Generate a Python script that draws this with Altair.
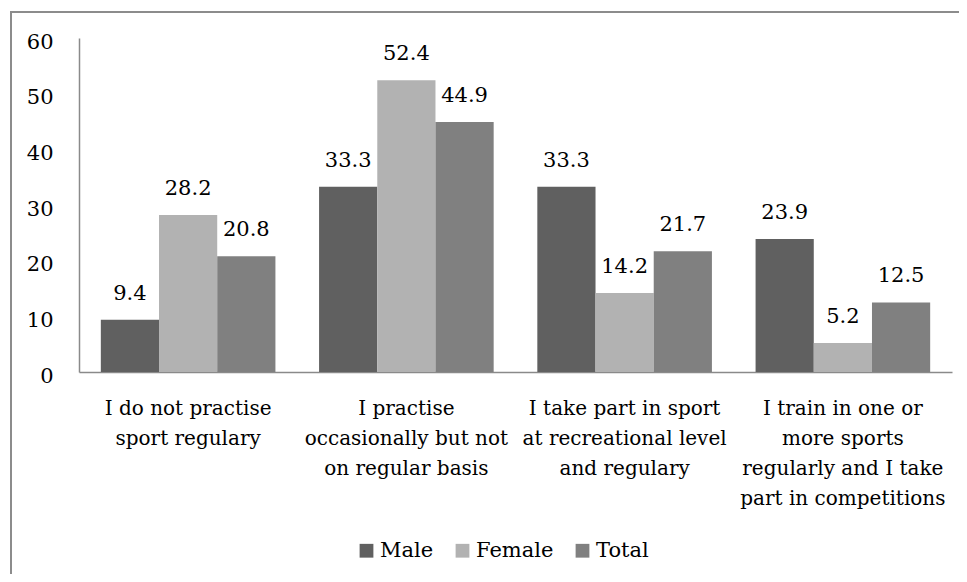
import json
import altair as alt
import pandas as pd

categories = [
    "I do not practise sport regulary",
    "I practise occasionally but not on regular basis",
    "I take part in sport at recreational level and regulary",
    "I train in one or more sports regularly and I take part in competitions",
]
category_lines = [
    ["I do not practise", "sport regulary"],
    ["I practise", "occasionally but not", "on regular basis"],
    ["I take part in sport", "at recreational level", "and regulary"],
    ["I train in one or", "more sports", "regularly and I take", "part in competitions"],
]
series = ["Male", "Female", "Total"]
male = [9.4, 33.3, 33.3, 23.9]
female = [28.2, 52.4, 14.2, 5.2]
total = [20.8, 44.9, 21.7, 12.5]
colors = ["#606060", "#b2b2b2", "#808080"]

rows = []
for i, c in enumerate(categories):
    for s, vals in zip(series, [male, female, total]):
        rows.append({"category": c, "group": s, "value": vals[i]})
df = pd.DataFrame(rows)

label_map = json.dumps({c: l for c, l in zip(categories, category_lines)})
FONT = "DejaVu Serif"

x_enc = alt.X(
    "category:N",
    sort=categories,
    scale=alt.Scale(paddingInner=0.2, paddingOuter=0.1),
    axis=alt.Axis(
        title=None,
        labelAngle=0,
        labelExpr=f"{label_map}[datum.value]",
        labelFontSize=20,
        labelLineHeight=30,
        labelPadding=26,
        labelFont=FONT,
        labelColor="#000000",
        labelBaseline="top",
        labelLimit=400,
        ticks=False,
        domainColor="#8a8a8a",
        domainWidth=1.5,
        grid=False,
    ),
)
xoff = alt.XOffset("group:N", sort=series, scale=alt.Scale(paddingInner=0, paddingOuter=0))

base = alt.Chart(df)

bars = base.mark_bar().encode(
    x=x_enc,
    xOffset=xoff,
    y=alt.Y(
        "value:Q",
        scale=alt.Scale(domain=[0, 60]),
        axis=alt.Axis(
            title=None,
            values=[0, 10, 20, 30, 40, 50, 60],
            ticks=False,
            grid=False,
            labelFontSize=21,
            labelFont=FONT,
            labelColor="#000000",
            labelPadding=26,
            labelOffset=4,
            domainColor="#8a8a8a",
            domainWidth=1.5,
        ),
    ),
    color=alt.Color(
        "group:N",
        sort=series,
        scale=alt.Scale(domain=series, range=colors),
        legend=alt.Legend(
            title=None,
            orient="none",
            legendX=277,
            legendY=502,
            direction="horizontal",
            symbolType="square",
            symbolSize=190,
            symbolStrokeWidth=0,
            labelFontSize=21,
            labelFont=FONT,
            labelColor="#000000",
            labelOffset=3,
            columnPadding=18,
        ),
    ),
)

labels = base.mark_text(
    baseline="bottom", dy=-16, fontSize=21, font=FONT, color="#000000"
).encode(
    x=alt.X("category:N", sort=categories),
    xOffset=alt.XOffset("group:N", sort=series),
    y="value:Q",
    text=alt.Text("value:Q", format=".1f"),
)

frame = alt.Chart(alt.Data(values=[{"a": 1}])).mark_rect(
    fill="transparent", stroke="#8c8c8c", strokeWidth=2
).encode(
    x=alt.value(-68), x2=alt.value(1000), y=alt.value(-26), y2=alt.value(700)
)

chart = (
    alt.layer(bars, labels, frame)
    .properties(
        width=873,
        height=334,
        padding={"left": 71, "top": 30, "right": 7, "bottom": 202},
        autosize=alt.AutoSizeParams(type="none"),
        background="white",
    )
    .configure_view(stroke=None)
)

chart.save("out.html", embed_options={"renderer": "svg", "actions": False})
